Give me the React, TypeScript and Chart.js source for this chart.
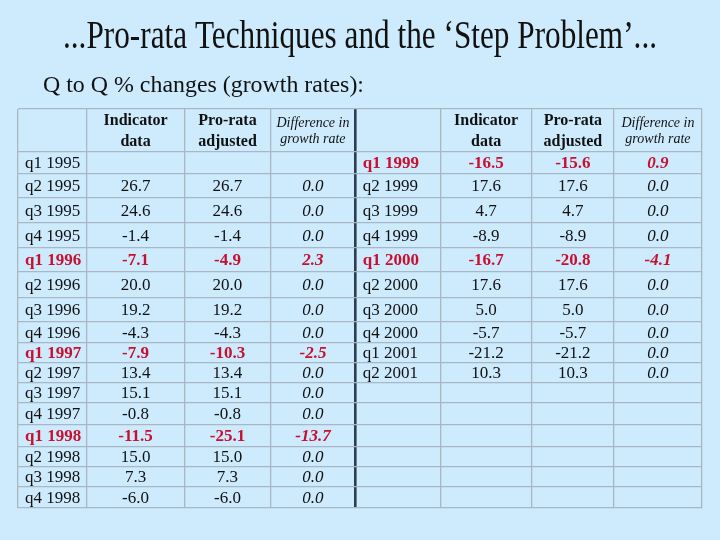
import React, { useEffect, useRef } from 'react';
import { Chart, registerables } from 'chart.js';

Chart.register(...registerables);

// ---------- data ----------
const titleText = '...Pro-rata Techniques and the \u2018Step Problem\u2019...';
const subtitleText = 'Q to Q % changes (growth rates):';

const headerIndicator = ['Indicator', 'data'];
const headerProrata = ['Pro-rata', 'adjusted'];
const headerDiff = ['Difference in', 'growth rate'];

const leftPeriods = ['q1 1995', 'q2 1995', 'q3 1995', 'q4 1995', 'q1 1996', 'q2 1996', 'q3 1996', 'q4 1996',
  'q1 1997', 'q2 1997', 'q3 1997', 'q4 1997', 'q1 1998', 'q2 1998', 'q3 1998', 'q4 1998'];
const leftIndicator = [null, 26.7, 24.6, -1.4, -7.1, 20.0, 19.2, -4.3, -7.9, 13.4, 15.1, -0.8, -11.5, 15.0, 7.3, -6.0];
const leftProrata = [null, 26.7, 24.6, -1.4, -4.9, 20.0, 19.2, -4.3, -10.3, 13.4, 15.1, -0.8, -25.1, 15.0, 7.3, -6.0];
const leftDiff = [null, 0.0, 0.0, 0.0, 2.3, 0.0, 0.0, 0.0, -2.5, 0.0, 0.0, 0.0, -13.7, 0.0, 0.0, 0.0];

const rightPeriods = ['q1 1999', 'q2 1999', 'q3 1999', 'q4 1999', 'q1 2000', 'q2 2000', 'q3 2000', 'q4 2000', 'q1 2001', 'q2 2001'];
const rightIndicator = [-16.5, 17.6, 4.7, -8.9, -16.7, 17.6, 5.0, -5.7, -21.2, 10.3];
const rightProrata = [-15.6, 17.6, 4.7, -8.9, -20.8, 17.6, 5.0, -5.7, -21.2, 10.3];
const rightDiff = [0.9, 0.0, 0.0, 0.0, -4.1, 0.0, 0.0, 0.0, 0.0, 0.0];

// ---------- layout / style ----------
const BG = '#cdebfd';
const GRID = '#a9b7c4';
const DIVIDER = '#2b3d4f';
const RED = '#c8102e';
const INK = '#111111';
const SERIF = '"Liberation Serif", "Times New Roman", serif';

// relative heights of header band and the 16 body rows
const HEADER_WEIGHT = 43;
const ROW_WEIGHTS = [22, 24, 25, 25, 24, 26, 24, 21, 20, 20, 20, 22, 22, 20, 20, 21];
const ROW_EDGES = ROW_WEIGHTS.reduce((acc, w) => { acc.push(acc[acc.length - 1] + w); return acc; }, [HEADER_WEIGHT]);
const COL_EDGES = [0, 0.8, 1.95, 2.95, 3.95, 4.94, 6.01, 6.97, 8];
const DIVIDER_EDGE = 4;

const fmt = (v: number | null) => (v === null || v === undefined ? '' : v.toFixed(1));

const tablePlugin = {
  id: 'tableText',
  beforeDraw(chart: any) {
    const ctx = chart.ctx;
    ctx.save();
    ctx.fillStyle = BG;
    ctx.fillRect(0, 0, chart.width, chart.height);
    ctx.restore();
  },
  afterDraw(chart: any) {
    const ctx = chart.ctx as CanvasRenderingContext2D;
    const xs = chart.scales.x;
    const ys = chart.scales.y;
    const ca = chart.chartArea;

    // title (condensed)
    ctx.save();
    ctx.fillStyle = INK;
    ctx.textBaseline = 'alphabetic';
    ctx.textAlign = 'center';
    ctx.font = `39px ${SERIF}`;
    const tw = ctx.measureText(titleText).width;
    ctx.translate(chart.width / 2, 48);
    ctx.scale(594 / tw, 1);
    ctx.fillText(titleText, 0, 0);
    ctx.restore();

    // subtitle
    ctx.save();
    ctx.fillStyle = INK;
    ctx.textBaseline = 'alphabetic';
    ctx.textAlign = 'left';
    ctx.font = `24px ${SERIF}`;
    const sw = ctx.measureText(subtitleText).width;
    ctx.translate(ca.left + 25, 92);
    ctx.scale(321 / sw, 1);
    ctx.fillText(subtitleText, 0, 0);
    ctx.restore();

    const colCenter = (i: number) => xs.getPixelForValue((COL_EDGES[i] + COL_EDGES[i + 1]) / 2);
    const rowCenter = (r: number) => ys.getPixelForValue((ROW_EDGES[r] + ROW_EDGES[r + 1]) / 2);
    const headerCenter = ys.getPixelForValue(HEADER_WEIGHT / 2);

    const drawHeader = (colIdx: number, lines: string[], italic: boolean) => {
      ctx.save();
      ctx.fillStyle = INK;
      ctx.textAlign = 'center';
      ctx.textBaseline = 'middle';
      ctx.font = italic ? `italic 14px ${SERIF}` : `bold 16px ${SERIF}`;
      const gap = italic ? 8 : 10;
      ctx.fillText(lines[0], colCenter(colIdx), headerCenter - gap + (italic ? 1 : 0));
      ctx.fillText(lines[1], colCenter(colIdx), headerCenter + gap + 1);
      ctx.restore();
    };

    const drawBlock = (offset: number, periods: string[], ind: (number | null)[], pro: (number | null)[], diff: (number | null)[]) => {
      drawHeader(offset + 1, headerIndicator, false);
      drawHeader(offset + 2, headerProrata, false);
      drawHeader(offset + 3, headerDiff, true);
      periods.forEach((p, r) => {
        const hl = diff[r] !== null && diff[r] !== 0;
        const y = rowCenter(r) + 1;
        ctx.save();
        ctx.textBaseline = 'middle';
        ctx.fillStyle = hl ? RED : INK;
        ctx.font = `${hl ? 'bold ' : ''}17px ${SERIF}`;
        ctx.textAlign = 'left';
        ctx.fillText(p, xs.getPixelForValue(COL_EDGES[offset]) + 7, y);
        ctx.textAlign = 'center';
        ctx.fillText(fmt(ind[r]), colCenter(offset + 1), y);
        ctx.fillText(fmt(pro[r]), colCenter(offset + 2), y);
        ctx.font = `italic ${hl ? 'bold ' : ''}17px ${SERIF}`;
        ctx.fillText(fmt(diff[r]), colCenter(offset + 3), y);
        ctx.restore();
      });
    };

    drawBlock(0, leftPeriods, leftIndicator, leftProrata, leftDiff);
    drawBlock(4, rightPeriods, rightIndicator, rightProrata, rightDiff);
  },
};

export default function App() {
  const ref = useRef<HTMLCanvasElement | null>(null);
  useEffect(() => {
    if (!ref.current) return;
    const isDivider = (c: any) => c.tick && Math.abs(c.tick.value - COL_EDGES[DIVIDER_EDGE]) < 1e-6;
    const chart = new Chart(ref.current, {
      type: 'scatter',
      data: { datasets: [] },
      plugins: [tablePlugin],
      options: {
        animation: false,
        responsive: false,
        maintainAspectRatio: false,
        events: [],
        layout: { padding: { top: 109, bottom: 32, left: 18, right: 18 } },
        plugins: { legend: { display: false }, tooltip: { enabled: false }, title: { display: false } },
        scales: {
          x: {
            type: 'linear',
            min: 0,
            max: 8,
            afterBuildTicks: (s: any) => { s.ticks = COL_EDGES.map((v) => ({ value: v })); },
            ticks: { display: false },
            border: { display: false },
            grid: {
              drawTicks: false,
              color: (c: any) => (isDivider(c) ? DIVIDER : GRID),
              lineWidth: (c: any) => (isDivider(c) ? 2.6 : 1.3),
            },
          },
          y: {
            type: 'linear',
            reverse: true,
            min: 0,
            max: ROW_EDGES[ROW_EDGES.length - 1],
            afterBuildTicks: (s: any) => { s.ticks = [0, ...ROW_EDGES].map((v) => ({ value: v })); },
            ticks: { display: false },
            border: { display: false },
            grid: { drawTicks: false, color: GRID, lineWidth: 1.3 },
          },
        },
      },
    });
    return () => chart.destroy();
  }, []);

  return (
    <div style={{ position: 'fixed', left: 0, top: 0, width: 720, height: 540, background: BG }}>
      <canvas ref={ref} width={720} height={540} style={{ display: 'block', width: 720, height: 540 }} />
    </div>
  );
}
